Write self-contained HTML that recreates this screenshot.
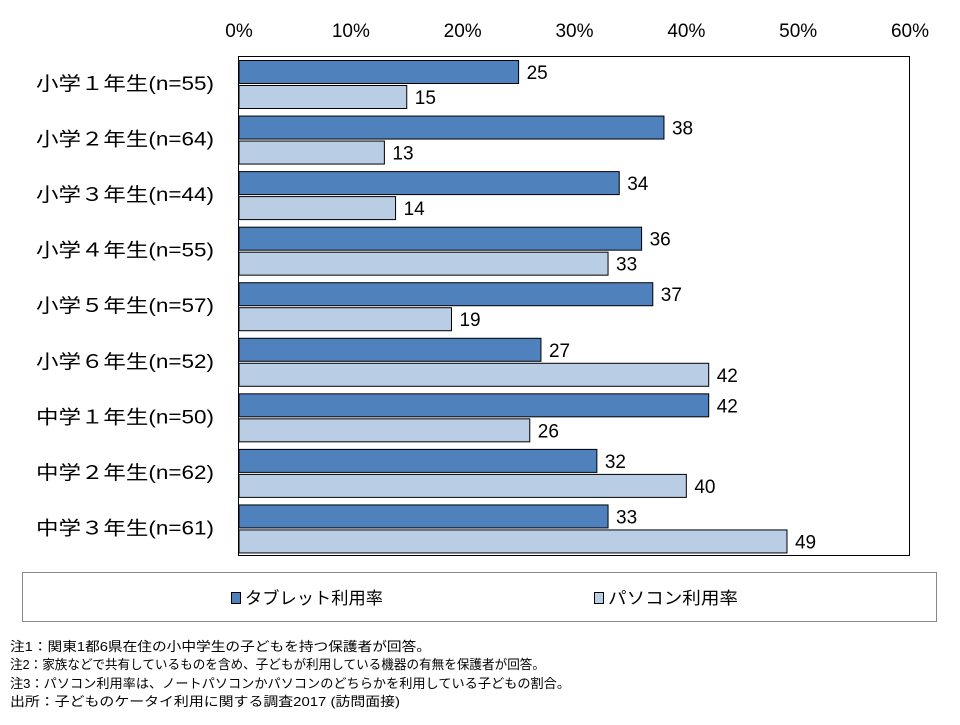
<!DOCTYPE html>
<html><head><meta charset="utf-8"><style>
body{margin:0;background:#fff}
svg text{font-family:"Liberation Sans","Noto Sans CJK JP",sans-serif;fill:#000}
</style></head><body>
<svg id="chart" width="960" height="720" viewBox="0 0 960 720" xmlns="http://www.w3.org/2000/svg">
<g id="ticks"></g>
<rect x="238.5" y="56.5" width="671" height="499" fill="none" stroke="#000" stroke-width="1"/>
<g id="bars"></g>
<rect x="22.5" y="572.5" width="914" height="49" fill="#fff" stroke="#888"/>
<g>
<rect x="231.5" y="592.5" width="9" height="11" fill="#4F81BD" stroke="#000"/>
<text x="245" y="604" font-size="17" textLength="138" lengthAdjust="spacingAndGlyphs">タブレット利用率</text>
</g>
<g>
<rect x="594.5" y="592.5" width="9" height="11" fill="#B9CDE5" stroke="#000"/>
<text x="608" y="604" font-size="17" textLength="130" lengthAdjust="spacingAndGlyphs">パソコン利用率</text>
</g>
<g font-size="13">
<text x="10" y="651" textLength="421" lengthAdjust="spacingAndGlyphs">注1：関東1都6県在住の小中学生の子どもを持つ保護者が回答。</text>
<text x="10" y="669" textLength="535" lengthAdjust="spacingAndGlyphs">注2：家族などで共有しているものを含め、子どもが利用している機器の有無を保護者が回答。</text>
<text x="10" y="688" textLength="560" lengthAdjust="spacingAndGlyphs">注3：パソコン利用率は、ノートパソコンかパソコンのどちらかを利用している子どもの割合。</text>
<text x="10" y="706" textLength="390" lengthAdjust="spacingAndGlyphs">出所：子どものケータイ利用に関する調査2017 (訪問面接)</text>
</g>
</svg>
<script>
const categories=["小学１年生(n=55)","小学２年生(n=64)","小学３年生(n=44)","小学４年生(n=55)","小学５年生(n=57)","小学６年生(n=52)","中学１年生(n=50)","中学２年生(n=62)","中学３年生(n=61)"];
const tabletValues=[25,38,34,36,37,27,42,32,33];
const pcValues=[15,13,14,33,19,42,26,40,49];
const tickValues=[0,10,20,30,40,50,60];
const tickLabels=["0%","10%","20%","30%","40%","50%","60%"];
const NS="http://www.w3.org/2000/svg";
const x0=239,x1=910,yTop=56,yBot=556;
function xScale(v){return x0+(v/60)*(x1-x0);}
function band(i){return yTop+i*(yBot-yTop)/categories.length;}
function mk(tag,attrs,parent){const e=document.createElementNS(NS,tag);for(const k in attrs)e.setAttribute(k,attrs[k]);parent.appendChild(e);return e;}
const tg=document.getElementById('ticks');
tickValues.forEach((v,i)=>{
  const t=mk('text',{x:xScale(v),y:37,'font-size':19,'text-anchor':'middle'},tg);
  
  
  t.textContent=tickLabels[i];
});
const bg=document.getElementById('bars');
categories.forEach((c,i)=>{
  const b=band(i);
  const lab=mk('text',{x:214,y:b+34,'font-size':19,'text-anchor':'end',textLength:178,lengthAdjust:'spacingAndGlyphs'},bg);
  
  
  lab.textContent=c;
  [[tabletValues[i],'#4F81BD',4,'bar-tablet'],[pcValues[i],'#B9CDE5',29,'bar-pc']].forEach(([v,col,off,nm])=>{
    const r=mk('rect',{x:x0,y:b+off+0.5,width:xScale(v)-x0,height:23,fill:col,stroke:'#000','stroke-width':1},bg);
    
    
    const t=mk('text',{x:xScale(v)+8,y:b+off+19,'font-size':19},bg);
    
    
    t.textContent=v;
  });
});
</script>
</body></html>
